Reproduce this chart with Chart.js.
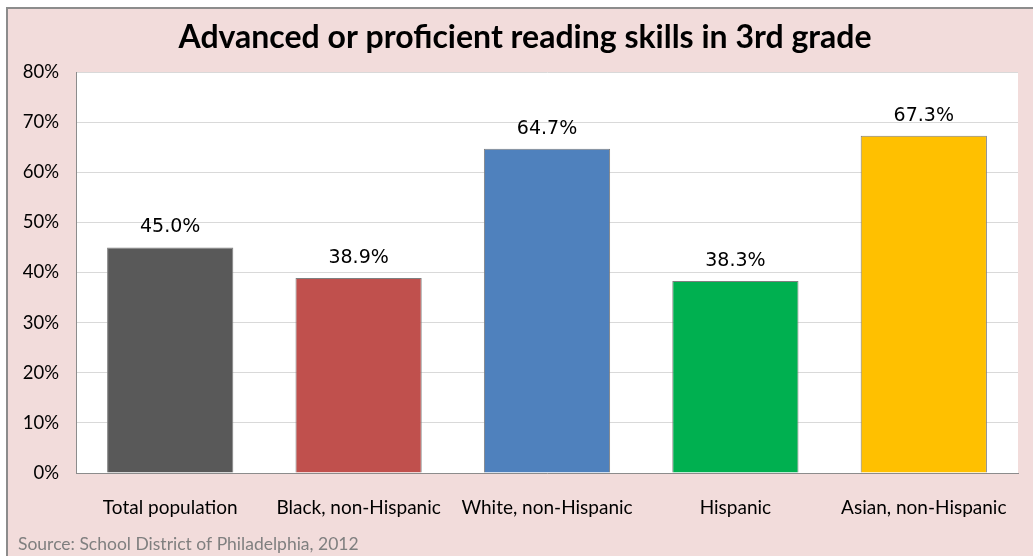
<!DOCTYPE html>
<html>
<head>
<meta charset="utf-8">
<script src="https://cdn.jsdelivr.net/npm/chart.js@4"></script>
<style>
  html, body { margin: 0; padding: 0; background: #ffffff; }
  #wrap { width: 1033px; height: 556px; }
</style>
</head>
<body>
<div id="wrap"><canvas id="grafico" width="1033" height="556"></canvas></div>
<script>
// Datos del gráfico
var categorias = ["Total population", "Black, non-Hispanic", "White, non-Hispanic", "Hispanic", "Asian, non-Hispanic"];
var porcentajes = [45.0, 38.9, 64.7, 38.3, 67.3];
var colores = ["#595959", "#c0504d", "#4f81bd", "#00b050", "#ffc000"];
var ticksY = [0, 10, 20, 30, 40, 50, 60, 70, 80];
var titulo = "Advanced or proficient reading skills in 3rd grade";
var fuente = "Source: School District of Philadelphia, 2012";

// Fondo rosado, borde y texto de la fuente
var fondoPlugin = {
    id: "fondo",
    beforeDraw: function (chart) {
        var ctx = chart.ctx;
        ctx.save();
        ctx.fillStyle = "#ffffff";
        ctx.fillRect(0, 0, chart.width, chart.height);
        ctx.fillStyle = "#f2dcdb";
        ctx.fillRect(7, 8, chart.width - 7, chart.height - 8);
        ctx.strokeStyle = "#8c8c8c";
        ctx.lineWidth = 2;
        ctx.beginPath();
        ctx.moveTo(7, chart.height);
        ctx.lineTo(7, 8);
        ctx.lineTo(chart.width, 8);
        ctx.stroke();

        // area del grafico en blanco
        var a = chart.chartArea;
        ctx.fillStyle = "#ffffff";
        ctx.fillRect(a.left, a.top, a.right - a.left, a.bottom - a.top);

        // titulo
        ctx.fillStyle = "#000000";
        ctx.font = "bold 32px Lato";
        ctx.textAlign = "center";
        ctx.textBaseline = "middle";
        ctx.fillText(titulo, 525, 38);

        // fuente
        ctx.fillStyle = "#7f7f7f";
        ctx.font = "17.5px Lato";
        ctx.textAlign = "left";
        ctx.fillText(fuente, 18, 544);
        ctx.restore();
    }
};

// Etiquetas de valor encima de cada barra
var etiquetasPlugin = {
    id: "etiquetas",
    afterDatasetsDraw: function (chart) {
        var ctx = chart.ctx;
        var meta = chart.getDatasetMeta(0);
        ctx.save();
        ctx.fillStyle = "#000000";
        ctx.font = "19px 'DejaVu Sans'";
        ctx.textAlign = "center";
        ctx.textBaseline = "middle";
        meta.data.forEach(function (bar, i) {
            ctx.fillText(porcentajes[i].toFixed(1) + "%", bar.x, bar.y - 20);
        });
        ctx.restore();
    }
};

var ctx = document.getElementById("grafico").getContext("2d");
var myChart = new Chart(ctx, {
    type: "bar",
    data: {
        labels: categorias,
        datasets: [{
            data: porcentajes,
            backgroundColor: colores,
            borderColor: "#7f7f7f",
            borderWidth: 1,
            categoryPercentage: 1,
            barPercentage: 0.67
        }]
    },
    options: {
        responsive: false,
        animation: false,
        layout: { padding: { left: 0, top: 72, right: 15, bottom: 0 } },
        plugins: {
            legend: { display: false },
            tooltip: { enabled: false }
        },
        scales: {
            x: {
                grid: { display: false },
                border: { color: "#8c8c8c", width: 1 },
                ticks: {
                    color: "#000000",
                    font: { family: "Lato", size: 19 },
                    padding: 15,
                    maxRotation: 0
                },
                afterFit: function (scale) { scale.height = 83; }
            },
            y: {
                min: 0,
                max: 80,
                afterBuildTicks: function (scale) {
                    scale.ticks = ticksY.map(function (v) { return { value: v }; });
                },
                grid: { color: "#d9d9d9", drawTicks: false },
                border: { color: "#8c8c8c", width: 1 },
                ticks: {
                    color: "#000000",
                    font: { family: "Lato", size: 18.5 },
                    padding: 17,
                    callback: function (v) { return v + "%"; }
                },
                afterFit: function (scale) { scale.width = 76; }
            }
        }
    },
    plugins: [fondoPlugin, etiquetasPlugin]
});
</script>
</body>
</html>
